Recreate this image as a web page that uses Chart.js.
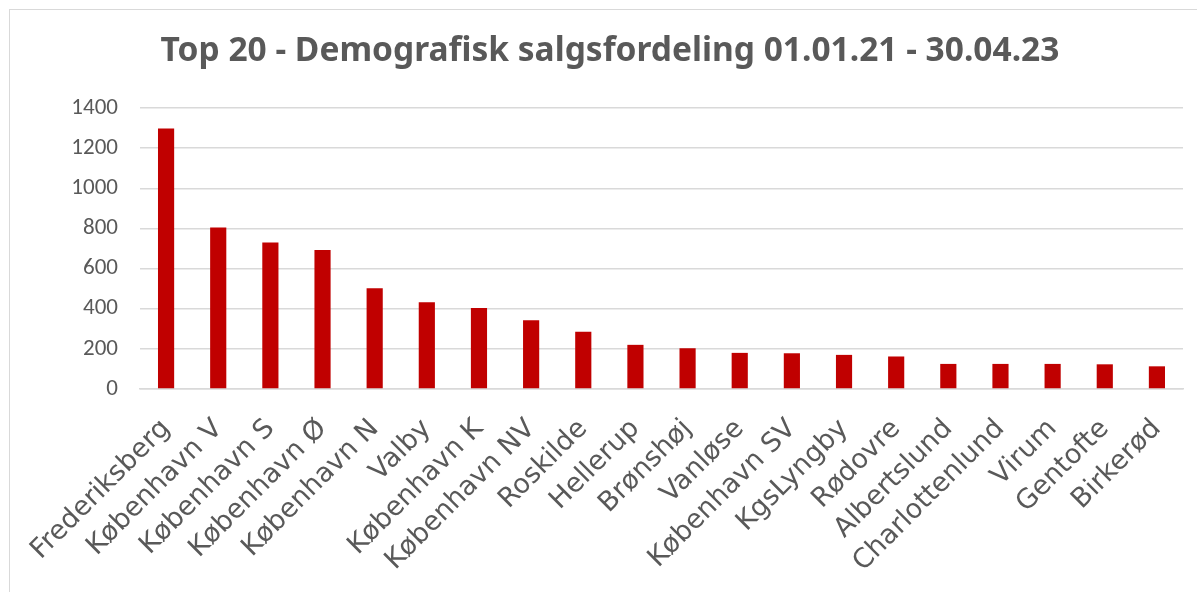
<!DOCTYPE html>
<html><head><meta charset="utf-8">
<script src="https://cdn.jsdelivr.net/npm/chart.js@4"></script>
<style>
html,body{margin:0;padding:0;background:#fff;overflow:hidden;}
#frame{position:absolute;left:9px;top:9px;width:1300px;height:700px;border:1.5px solid #d9d9d9;box-sizing:border-box;}
#wrap{position:absolute;left:0;top:0;width:1197px;height:592px;}
</style></head>
<body>
<div id="frame"></div>
<div id="wrap"><canvas id="c" width="1197" height="592"></canvas></div>
<script>
const categories = ["Frederiksberg","København V","København S","København Ø","København N","Valby","København K","København NV","Roskilde","Hellerup","Brønshøj","Vanløse","København SV","KgsLyngby","Rødovre","Albertslund","Charlottenlund","Virum","Gentofte","Birkerød"];
const sales = [1298,805,730,693,502,432,403,342,285,220,203,180,178,170,162,125,125,125,123,113];
const yTicks = [0,200,400,600,800,1000,1200,1400];
const titleText = "Top 20 - Demografisk salgsfordeling 01.01.21 - 30.04.23";

const titlePlugin = {
  id: 'customTitle',
  afterDraw(chart) {
    const ctx = chart.ctx;
    ctx.save();
    ctx.font = "bold 33.5px 'Noto Sans', 'DejaVu Sans', sans-serif";
    ctx.fillStyle = '#595959';
    ctx.textAlign = 'center';
    ctx.textBaseline = 'alphabetic';
    ctx.fillText(titleText, 610, 61);
    ctx.restore();
  }
};

new Chart(document.getElementById('c'), {
  type: 'bar',
  data: { labels: categories, datasets: [{ data: sales, backgroundColor: '#c00000', borderWidth: 0, barPercentage: 0.31, categoryPercentage: 1 }] },
  options: {
    responsive: false, animation: false,
    layout: { padding: { left: 0, right: 14, top: 108, bottom: 0 } },
    plugins: { legend: { display: false }, tooltip: { enabled: false }, title: { display: false } },
    scales: {
      x: {
        grid: { display: false }, border: { display: true, color: '#d9d9d9', width: 1.5 },
        afterFit: (s) => { s.height = 203; },
        ticks: { color: '#595959', font: { family: "'DejaVu Sans', sans-serif", size: 27 }, maxRotation: 45, minRotation: 45, autoSkip: false, padding: 16 }
      },
      y: {
        min: 0, max: 1400,
        afterBuildTicks: (ax) => { ax.ticks = yTicks.map(v => ({ value: v })); },
        afterFit: (s) => { s.width = 140; },
        grid: { color: '#d9d9d9', lineWidth: 1.5, drawTicks: false }, border: { display: false },
        ticks: { color: '#595959', font: { family: "Carlito, 'Liberation Sans', sans-serif", size: 23 }, padding: 22, callback: (v) => String(v) }
      }
    }
  },
  plugins: [titlePlugin]
});
</script>
</body></html>
